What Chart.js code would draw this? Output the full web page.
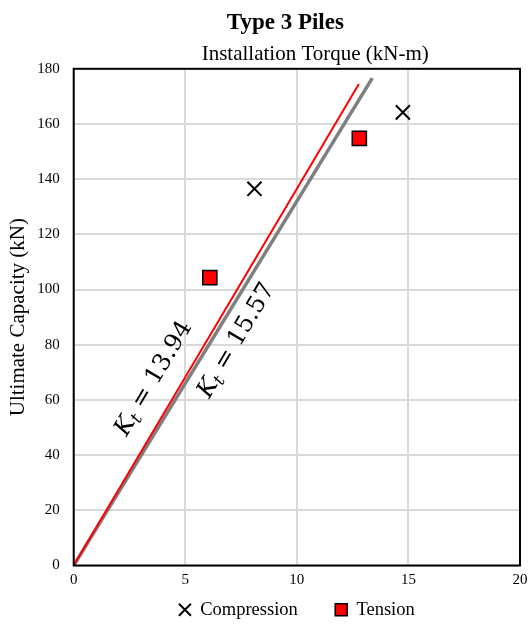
<!DOCTYPE html>
<html lang="en">
<head>
  <meta charset="UTF-8">
  <title>Type 3 Piles</title>
  <script src="https://cdn.jsdelivr.net/npm/chart.js"></script>
  <style>
    html, body { margin: 0; padding: 0; background: #fff; }
    #wrap { width: 532px; height: 624px; }
  </style>
</head>
<body>
<div id="wrap"><canvas id="pileChart"></canvas></div>

<script>
  // measured points
  const compTorque = [8.1, 14.75];
  const compCapacity = [136.5, 164.2];
  const tensTorque = [6.1, 12.8];
  const tensCapacity = [104.3, 154.8];

  // fitted lines (start and end)
  const redTorque = [0, 12.78];
  const redCapacity = [0, 174.5];
  const grayTorque = [0, 13.38];
  const grayCapacity = [0, 176.6];

  // line labels: text value and where it sits (torque, capacity)
  const ktLabels = ['13.94', '15.57'];
  const ktTorque = [3.6, 7.3];
  const ktCapacity = [67.7, 81.5];

  const toXY = (xs, ys) => xs.map((x, i) => ({ x: x, y: ys[i] }));
  const serif = 'Liberation Serif';

  // box around the plot area
  const frame = {
    id: 'frame',
    afterDraw(chart) {
      const a = chart.chartArea;
      const ctx = chart.ctx;
      ctx.save();
      ctx.strokeStyle = '#000';
      ctx.lineWidth = 2;
      ctx.strokeRect(a.left, a.top, a.right - a.left, a.bottom - a.top);
      ctx.restore();
    }
  };

  // K_t = ... text along the lines
  const ktText = {
    id: 'ktText',
    afterDatasetsDraw(chart) {
      const ctx = chart.ctx;
      const xs = chart.scales.x, ys = chart.scales.y;
      const dx = xs.getPixelForValue(redTorque[1]) - xs.getPixelForValue(0);
      const dy = ys.getPixelForValue(redCapacity[1]) - ys.getPixelForValue(0);
      const ang = Math.atan2(dy, dx);
      ktLabels.forEach(function(val, i) {
        const px = xs.getPixelForValue(ktTorque[i]);
        const py = ys.getPixelForValue(ktCapacity[i]);
        ctx.save();
        ctx.translate(px, py);
        ctx.rotate(ang);
        ctx.fillStyle = '#000';
        ctx.textBaseline = 'middle';
        ctx.textAlign = 'left';
        const big = 'italic 24px DejaVu Serif';
        const small = 'italic 17px DejaVu Serif';
        const plain = '24px DejaVu Serif';
        const rest = ' = ' + val;
        ctx.font = big;
        const wK = ctx.measureText('K').width;
        ctx.font = small;
        const wt = ctx.measureText('t').width;
        ctx.font = plain;
        const wr = ctx.measureText(rest).width;
        const x0 = -(wK + wt + wr) / 2;
        ctx.font = big;
        ctx.fillText('K', x0, 0);
        ctx.font = small;
        ctx.fillText('t', x0 + wK, 6);
        ctx.font = plain;
        ctx.fillText(rest, x0 + wK + wt, 0);
        ctx.restore();
      });
    }
  };

  const ctx = document.getElementById('pileChart').getContext('2d');
  const pileChart = new Chart(ctx, {
    type: 'scatter',
    data: {
      datasets: [
        {
          label: 'Compression',
          data: toXY(compTorque, compCapacity),
          pointStyle: 'crossRot',
          pointRadius: 10,
          pointHoverRadius: 10,
          borderColor: '#000',
          backgroundColor: '#000',
          borderWidth: 2,
          order: 0
        },
        {
          label: 'Tension',
          data: toXY(tensTorque, tensCapacity),
          pointStyle: 'rect',
          pointRadius: 10,
          pointHoverRadius: 10,
          borderColor: '#000',
          backgroundColor: '#ff0000',
          borderWidth: 1.5,
          order: 1
        },
        {
          label: 'fitRed',
          data: toXY(redTorque, redCapacity),
          showLine: true,
          pointRadius: 0,
          borderColor: '#ff0000',
          borderWidth: 2,
          order: 2
        },
        {
          label: 'fitGray',
          data: toXY(grayTorque, grayCapacity),
          showLine: true,
          pointRadius: 0,
          borderColor: '#7f7f7f',
          borderWidth: 3.5,
          order: 3
        }
      ]
    },
    options: {
      responsive: true,
      maintainAspectRatio: false,
      animation: false,
      layout: { padding: { top: 4, right: 4, left: 6, bottom: -5 } },
      scales: {
        x: {
          type: 'linear',
          min: 0,
          max: 20,
          ticks: { stepSize: 5, color: '#000', font: { family: serif, size: 15 }, padding: 6 },
          grid: { color: '#d9d9d9', lineWidth: 2, drawTicks: false },
          border: { display: false },
          afterFit: function(scale) { scale.paddingRight = 0; }
        },
        xTop: {
          type: 'linear',
          position: 'top',
          min: 0,
          max: 20,
          ticks: { display: false },
          grid: { display: false, drawTicks: false },
          border: { display: false },
          title: {
            display: true,
            text: '       Installation Torque (kN-m)',
            color: '#000',
            font: { family: serif, size: 21 },
            padding: { top: 0, bottom: 2 }
          }
        },
        y: {
          min: 0,
          max: 180,
          ticks: { stepSize: 20, color: '#000', font: { family: serif, size: 15 }, padding: 14 },
          grid: { color: '#d9d9d9', lineWidth: 2, drawTicks: false },
          border: { display: false },
          title: {
            display: true,
            text: 'Ultimate Capacity (kN)',
            color: '#000',
            font: { family: serif, size: 21 },
            padding: { top: 0, bottom: -8 }
          }
        }
      },
      plugins: {
        title: {
          display: true,
          fullSize: false,
          text: 'Type 3 Piles    ',
          color: '#000',
          font: { family: serif, size: 23, weight: 'bold' },
          padding: { top: 5, bottom: 5 }
        },
        legend: {
          position: 'bottom',
          fullSize: false,
          labels: {
            usePointStyle: true,
            boxWidth: 12,
            boxHeight: 12,
            color: '#000',
            font: { family: serif, size: 18.5 },
            padding: 5,
            generateLabels: function(chart) {
              const items = Chart.defaults.plugins.legend.labels.generateLabels(chart)
                .filter(item => item.datasetIndex < 2);
              items.forEach(function(item) {
                if (item.datasetIndex === 0) item.text = item.text + '       ';
              });
              return items;
            }
          }
        },
        tooltip: { enabled: false }
      }
    },
    plugins: [frame, ktText]
  });
</script>
</body>
</html>
